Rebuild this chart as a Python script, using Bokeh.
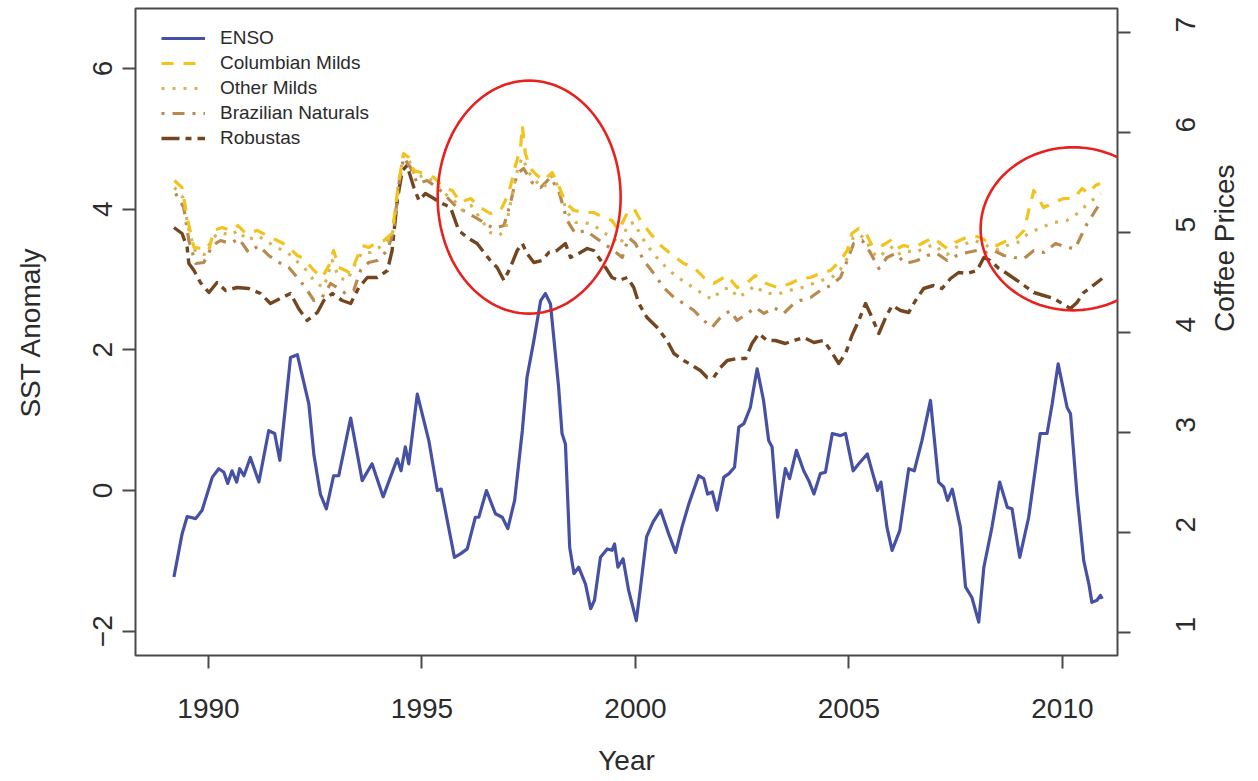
import math
from bokeh.plotting import figure
from bokeh.models import (Range1d, LinearAxis, FixedTicker, Legend, LegendItem,
                          PolyAnnotation)
from bokeh.embed import file_html
from bokeh.resources import INLINE

# ---------------- data ----------------
enso_year = [
    1989.19, 1989.38, 1989.50, 1989.70, 1989.85, 1990.09, 1990.24, 1990.36, 1990.45, 1990.55,
    1990.66, 1990.73, 1990.83, 1990.98, 1991.18, 1991.41, 1991.55, 1991.67, 1991.80, 1991.92,
    1992.08, 1992.35, 1992.47, 1992.62, 1992.76, 1992.93, 1993.05, 1993.33, 1993.60, 1993.83,
    1994.09, 1994.42, 1994.51, 1994.61, 1994.69, 1994.89, 1995.16, 1995.36, 1995.45, 1995.76,
    1995.90, 1996.06, 1996.25, 1996.33, 1996.51, 1996.72, 1996.88, 1997.01, 1997.17, 1997.35,
    1997.46, 1997.62, 1997.78, 1997.89, 1998.01, 1998.20, 1998.28, 1998.36, 1998.46, 1998.56,
    1998.67, 1998.83, 1998.95, 1999.04, 1999.18, 1999.34, 1999.45, 1999.51, 1999.59, 1999.71,
    1999.84, 2000.02, 2000.12, 2000.26, 2000.41, 2000.59, 2000.78, 2000.94, 2001.09, 2001.25,
    2001.48, 2001.60, 2001.69, 2001.80, 2001.91, 2002.07, 2002.19, 2002.32, 2002.42, 2002.54,
    2002.69, 2002.85, 2003.00, 2003.12, 2003.20, 2003.33, 2003.51, 2003.61, 2003.77, 2003.94,
    2004.06, 2004.18, 2004.33, 2004.45, 2004.61, 2004.80, 2004.92, 2005.10, 2005.23, 2005.43,
    2005.54, 2005.67, 2005.75, 2005.89, 2006.01, 2006.19, 2006.40, 2006.53, 2006.71, 2006.91,
    2007.10, 2007.22, 2007.31, 2007.42, 2007.61, 2007.73, 2007.88, 2008.04, 2008.16, 2008.35,
    2008.53, 2008.71, 2008.82, 2009.00, 2009.21, 2009.48, 2009.64, 2009.76, 2009.90, 2010.11,
    2010.19, 2010.34, 2010.50, 2010.62, 2010.69, 2010.81, 2010.89, 2010.93]
enso_sst = [
    -1.23, -0.62, -0.37, -0.40, -0.28, 0.19, 0.31, 0.26, 0.10, 0.28,
    0.12, 0.31, 0.21, 0.47, 0.12, 0.85, 0.81, 0.43, 1.18, 1.89,
    1.93, 1.23, 0.50, -0.05, -0.26, 0.21, 0.21, 1.03, 0.14, 0.38,
    -0.09, 0.45, 0.28, 0.62, 0.38, 1.37, 0.71, 0.00, 0.02, -0.95,
    -0.90, -0.83, -0.38, -0.38, 0.00, -0.33, -0.38, -0.54, -0.14, 0.85,
    1.61, 2.13, 2.70, 2.80, 2.65, 1.47, 0.81, 0.66, -0.81, -1.18,
    -1.09, -1.33, -1.68, -1.56, -0.95, -0.83, -0.85, -0.76, -1.09, -0.97,
    -1.42, -1.85, -1.37, -0.66, -0.45, -0.28, -0.62, -0.88, -0.52, -0.19,
    0.21, 0.17, -0.05, -0.02, -0.28, 0.19, 0.24, 0.33, 0.90, 0.95,
    1.18, 1.73, 1.28, 0.71, 0.62, -0.38, 0.31, 0.17, 0.57, 0.28,
    0.14, -0.05, 0.24, 0.26, 0.81, 0.78, 0.81, 0.28, 0.38, 0.52,
    0.28, 0.00, 0.12, -0.52, -0.85, -0.57, 0.31, 0.28, 0.71, 1.28,
    0.12, 0.05, -0.14, 0.02, -0.52, -1.37, -1.52, -1.87, -1.09, -0.52,
    0.12, -0.24, -0.26, -0.95, -0.38, 0.81, 0.81, 1.23, 1.80, 1.18,
    1.09, -0.05, -1.00, -1.33, -1.59, -1.56, -1.49, -1.54]

columbian_year = [
    1989.20, 1989.38, 1989.50, 1989.66, 1989.85, 1990.01, 1990.12, 1990.32, 1990.52, 1990.69,
    1990.87, 1991.14, 1991.37, 1991.61, 1991.84, 1992.08, 1992.23, 1992.47, 1992.66, 1992.82,
    1992.93, 1993.05, 1993.21, 1993.33, 1993.48, 1993.60, 1993.75, 1993.95, 1994.11, 1994.30,
    1994.46, 1994.57, 1994.69, 1994.81, 1995.04, 1995.28, 1995.51, 1995.71, 1995.90, 1996.14,
    1996.37, 1996.60, 1996.84, 1997.03, 1997.19, 1997.31, 1997.35, 1997.42, 1997.54, 1997.70,
    1997.85, 1998.05, 1998.20, 1998.36, 1998.56, 1998.79, 1999.02, 1999.26, 1999.45, 1999.61,
    1999.81, 1999.96, 2000.12, 2000.35, 2000.59, 2000.82, 2001.13, 2001.37, 2001.60, 2001.83,
    2002.15, 2002.38, 2002.62, 2002.81, 2003.01, 2003.32, 2003.63, 2003.86, 2004.10, 2004.33,
    2004.57, 2004.80, 2004.96, 2005.07, 2005.23, 2005.39, 2005.54, 2005.70, 2005.86, 2005.97,
    2006.13, 2006.28, 2006.52, 2006.75, 2006.98, 2007.14, 2007.30, 2007.49, 2007.69, 2007.88,
    2008.08, 2008.27, 2008.47, 2008.70, 2008.94, 2009.10, 2009.21, 2009.33, 2009.56, 2009.80,
    2010.03, 2010.26, 2010.46, 2010.62, 2010.77, 2010.88]
columbian_price = [
    5.52, 5.45, 5.15, 4.85, 4.84, 4.82, 5.02, 5.05, 5.02, 5.07,
    4.99, 5.02, 4.97, 4.92, 4.87, 4.77, 4.74, 4.62, 4.55, 4.67,
    4.82, 4.65, 4.62, 4.59, 4.75, 4.87, 4.85, 4.90, 4.92, 4.99,
    5.52, 5.79, 5.75, 5.62, 5.59, 5.55, 5.45, 5.42, 5.30, 5.34,
    5.25, 5.19, 5.22, 5.39, 5.67, 5.85, 6.07, 5.79, 5.64, 5.57,
    5.52, 5.60, 5.47, 5.30, 5.22, 5.20, 5.20, 5.15, 5.12, 5.02,
    5.20, 5.24, 5.12, 4.99, 4.87, 4.79, 4.69, 4.65, 4.55, 4.49,
    4.57, 4.45, 4.50, 4.57, 4.50, 4.45, 4.49, 4.54, 4.55, 4.59,
    4.62, 4.72, 4.82, 4.99, 5.04, 5.00, 4.87, 4.85, 4.89, 4.92,
    4.84, 4.87, 4.85, 4.90, 4.95, 4.89, 4.84, 4.90, 4.94, 4.97,
    4.95, 4.90, 4.87, 4.92, 4.95, 5.02, 5.22, 5.42, 5.25, 5.30,
    5.34, 5.34, 5.44, 5.39, 5.47, 5.49]

other_year = [
    1989.20, 1989.40, 1989.55, 1989.70, 1989.90,
    1990.10, 1990.30, 1990.50, 1990.70, 1990.90,
    1991.15, 1991.40, 1991.60, 1991.85,
    1992.10, 1992.30, 1992.50, 1992.70, 1992.90,
    1993.05, 1993.25, 1993.45, 1993.60, 1993.80,
    1994.00, 1994.30, 1994.45, 1994.57, 1994.70, 1994.85,
    1995.05, 1995.30, 1995.50, 1995.75, 1995.95,
    1996.15, 1996.40, 1996.60, 1996.80, 1996.95,
    1997.10, 1997.25, 1997.35, 1997.50, 1997.70, 1997.85,
    1998.05, 1998.20, 1998.40, 1998.60, 1998.80,
    1999.00, 1999.25, 1999.45, 1999.65, 1999.82, 1999.97,
    2000.15, 2000.40, 2000.60, 2000.85,
    2001.10, 2001.35, 2001.60, 2001.80,
    2002.00, 2002.20, 2002.40, 2002.60, 2002.80,
    2003.00, 2003.30, 2003.60, 2003.90,
    2004.10, 2004.35, 2004.60, 2004.80, 2004.97,
    2005.10, 2005.25, 2005.40, 2005.55, 2005.70, 2005.87,
    2006.00, 2006.15, 2006.30, 2006.55, 2006.80,
    2007.00, 2007.15, 2007.30, 2007.50, 2007.70, 2007.90,
    2008.10, 2008.30, 2008.50, 2008.70, 2008.95,
    2009.20, 2009.50, 2009.80,
    2010.10, 2010.35, 2010.60, 2010.90]
other_price = [
    5.45, 5.35, 5.00, 4.80, 4.78,
    4.95, 5.00, 4.97, 5.02, 4.92,
    4.97, 4.90, 4.85, 4.80,
    4.70, 4.62, 4.50, 4.45, 4.72,
    4.55, 4.52, 4.70, 4.80, 4.80,
    4.85, 4.95, 5.50, 5.78, 5.72, 5.55,
    5.57, 5.50, 5.40, 5.32, 5.22,
    5.27, 5.12, 5.00, 4.97, 5.02,
    5.35, 5.65, 5.75, 5.60, 5.50, 5.45,
    5.57, 5.45, 5.20, 5.10, 5.10,
    5.08, 5.00, 4.95, 4.88, 5.08, 5.10,
    4.95, 4.80, 4.70, 4.60,
    4.52, 4.45, 4.38, 4.33,
    4.42, 4.45, 4.35, 4.40, 4.47,
    4.40, 4.38, 4.42, 4.45,
    4.48, 4.52, 4.55, 4.63, 4.75,
    4.95, 4.98, 4.92, 4.80, 4.75, 4.82,
    4.85, 4.78, 4.82, 4.80, 4.85,
    4.88, 4.82, 4.78, 4.85, 4.88, 4.92,
    4.90, 4.85, 4.83, 4.87, 4.90,
    4.99, 5.05, 5.10,
    5.12, 5.19, 5.29, 5.39]

brazil_year = [
    1989.23, 1989.42, 1989.54, 1989.70, 1989.89, 1990.09, 1990.28, 1990.52, 1990.71, 1990.94,
    1991.18, 1991.41, 1991.65, 1991.88, 1992.08, 1992.27, 1992.47, 1992.66, 1992.86, 1993.01,
    1993.21, 1993.40, 1993.56, 1993.75, 1993.95, 1994.19, 1994.34, 1994.46, 1994.57, 1994.73,
    1994.89, 1995.12, 1995.36, 1995.59, 1995.82, 1996.06, 1996.29, 1996.45, 1996.68, 1996.92,
    1997.07, 1997.23, 1997.38, 1997.58, 1997.78, 1998.01, 1998.20, 1998.40, 1998.59, 1998.83,
    1999.06, 1999.26, 1999.49, 1999.69, 1999.84, 2000.00, 2000.19, 2000.43, 2000.66, 2000.90,
    2001.13, 2001.37, 2001.60, 2001.79, 2001.99, 2002.22, 2002.38, 2002.62, 2002.81, 2003.01,
    2003.24, 2003.47, 2003.71, 2003.86, 2004.10, 2004.33, 2004.57, 2004.80, 2004.96, 2005.11,
    2005.31, 2005.50, 2005.70, 2005.89, 2006.09, 2006.32, 2006.60, 2006.83, 2007.06, 2007.30,
    2007.53, 2007.77, 2008.00, 2008.20, 2008.39, 2008.63, 2008.87, 2009.10, 2009.33, 2009.56,
    2009.84, 2010.11, 2010.30, 2010.42, 2010.58, 2010.73, 2010.89]
brazil_price = [
    5.39, 5.25, 4.92, 4.69, 4.70, 4.87, 4.92, 4.89, 4.94, 4.80,
    4.87, 4.77, 4.70, 4.65, 4.55, 4.45, 4.32, 4.35, 4.49, 4.45,
    4.39, 4.42, 4.62, 4.70, 4.72, 4.82, 5.02, 5.49, 5.75, 5.65,
    5.49, 5.52, 5.45, 5.35, 5.25, 5.20, 5.14, 5.10, 5.04, 5.07,
    5.29, 5.59, 5.64, 5.50, 5.45, 5.55, 5.42, 5.12, 4.99, 5.02,
    4.95, 4.89, 4.82, 4.75, 4.95, 4.89, 4.72, 4.59, 4.45, 4.35,
    4.29, 4.22, 4.12, 4.05, 4.15, 4.22, 4.12, 4.19, 4.25, 4.19,
    4.25, 4.19, 4.29, 4.32, 4.35, 4.42, 4.47, 4.55, 4.72, 4.89,
    4.92, 4.80, 4.64, 4.75, 4.79, 4.69, 4.72, 4.77, 4.79, 4.72,
    4.77, 4.80, 4.82, 4.80, 4.82, 4.77, 4.75, 4.74, 4.82, 4.80,
    4.89, 4.85, 4.84, 4.95, 5.09, 5.19, 5.30]

robusta_year = [
    1989.19, 1989.38, 1989.50, 1989.54, 1989.66, 1989.81, 1990.01, 1990.20, 1990.40, 1990.67,
    1990.94, 1991.22, 1991.45, 1991.73, 1991.92, 1992.11, 1992.31, 1992.55, 1992.70, 1992.90,
    1993.13, 1993.33, 1993.52, 1993.72, 1993.95, 1994.19, 1994.30, 1994.42, 1994.54, 1994.65,
    1994.81, 1994.93, 1995.08, 1995.24, 1995.43, 1995.67, 1995.86, 1996.06, 1996.29, 1996.60,
    1996.76, 1996.92, 1997.07, 1997.23, 1997.35, 1997.46, 1997.62, 1997.81, 1997.97, 1998.16,
    1998.36, 1998.48, 1998.67, 1998.87, 1999.02, 1999.14, 1999.30, 1999.45, 1999.61, 1999.81,
    1999.96, 2000.08, 2000.27, 2000.51, 2000.74, 2000.90, 2001.13, 2001.33, 2001.52, 2001.68,
    2001.83, 2001.99, 2002.15, 2002.38, 2002.58, 2002.73, 2002.89, 2003.08, 2003.28, 2003.51,
    2003.71, 2003.94, 2004.18, 2004.41, 2004.57, 2004.76, 2004.92, 2005.07, 2005.23, 2005.39,
    2005.54, 2005.70, 2005.86, 2006.01, 2006.21, 2006.40, 2006.56, 2006.75, 2006.98, 2007.18,
    2007.38, 2007.57, 2007.77, 2008.00, 2008.16, 2008.31, 2008.51, 2008.70, 2008.94, 2009.10,
    2009.33, 2009.56, 2009.80, 2009.99, 2010.19, 2010.34, 2010.50, 2010.66, 2010.81, 2010.93]
robusta_price = [
    5.05, 4.99, 4.85, 4.69, 4.62, 4.50, 4.40, 4.50, 4.42, 4.45,
    4.44, 4.39, 4.29, 4.35, 4.39, 4.24, 4.12, 4.20, 4.32, 4.39,
    4.32, 4.29, 4.45, 4.55, 4.55, 4.62, 4.82, 5.32, 5.62, 5.67,
    5.45, 5.32, 5.39, 5.35, 5.30, 5.25, 5.02, 4.95, 4.89, 4.72,
    4.65, 4.52, 4.65, 4.82, 4.89, 4.79, 4.70, 4.72, 4.80, 4.82,
    4.89, 4.75, 4.79, 4.84, 4.82, 4.75, 4.65, 4.55, 4.52, 4.55,
    4.45, 4.29, 4.15, 4.05, 3.92, 3.79, 3.72, 3.67, 3.62, 3.55,
    3.55, 3.65, 3.72, 3.74, 3.74, 3.89, 3.99, 3.92, 3.92, 3.89,
    3.92, 3.95, 3.90, 3.92, 3.82, 3.69, 3.79, 3.97, 4.12, 4.29,
    4.15, 3.99, 4.15, 4.27, 4.22, 4.20, 4.32, 4.44, 4.47, 4.44,
    4.54, 4.60, 4.59, 4.62, 4.75, 4.72, 4.64, 4.59, 4.52, 4.47,
    4.40, 4.37, 4.34, 4.29, 4.24, 4.30, 4.40, 4.45, 4.50, 4.54]

x_ticks = [1990, 1995, 2000, 2005, 2010]
sst_ticks = [-2, 0, 2, 4, 6]
price_ticks = [1, 2, 3, 4, 5, 6, 7]

# ---------------- figure ----------------
FONT = "'Liberation Sans', Arial, sans-serif"
TXT = "#2b2b2b"
AX = "#4a4a4a"

p = figure(width=1258, height=781, output_backend="svg", toolbar_location=None,
           x_range=Range1d(1988.29, 2011.29), y_range=Range1d(-2.345, 6.851),
           min_border_left=135, min_border_right=141, min_border_top=8,
           min_border_bottom=126, background_fill_color="white",
           border_fill_color="white")
p.extra_y_ranges = {"coffee": Range1d(0.77, 7.24)}
p.grid.visible = False
p.outline_line_color = AX
p.outline_line_width = 2

right_axis = LinearAxis(y_range_name="coffee")
p.add_layout(right_axis, "right")

for ax in (p.xaxis[0], p.yaxis[0], right_axis):
    ax.axis_line_color = None
    ax.major_tick_line_color = AX
    ax.major_tick_line_width = 2
    ax.major_tick_in = 0
    ax.major_tick_out = 13
    ax.minor_tick_line_color = None
    ax.major_label_text_font = FONT
    ax.major_label_text_font_size = "28px"
    ax.major_label_text_color = TXT
    ax.axis_label_text_font = FONT
    ax.axis_label_text_font_size = "28px"
    ax.axis_label_text_font_style = "normal"
    ax.axis_label_text_color = TXT

p.xaxis[0].ticker = FixedTicker(ticks=x_ticks)
p.xaxis[0].axis_label = "Year"
p.xaxis[0].major_label_standoff = 30
p.xaxis[0].axis_label_standoff = 24

p.yaxis[0].ticker = FixedTicker(ticks=sst_ticks)
p.yaxis[0].axis_label = "SST Anomaly"
p.yaxis[0].major_label_orientation = "vertical"
p.yaxis[0].major_label_standoff = 10
p.yaxis[0].axis_label_standoff = 45

right_axis.ticker = FixedTicker(ticks=price_ticks)
right_axis.axis_label = "Coffee Prices"
right_axis.major_label_orientation = math.pi / 2
right_axis.axis_label_orientation = math.pi / 2
right_axis.major_label_standoff = 55
right_axis.axis_label_standoff = 17

# ---------------- lines ----------------
enso_r = p.line(enso_year, enso_sst, line_color="#4651a6", line_width=3.2,
                line_join="round")
rob_r = p.line(robusta_year, robusta_price, y_range_name="coffee",
               line_color="#744620", line_width=3.4, line_dash="18 6 6 6",
               line_join="round")
bra_r = p.line(brazil_year, brazil_price, y_range_name="coffee",
               line_color="#b98a4e", line_width=3.2, line_dash="3 8 12 8",
               line_join="round")
oth_r = p.line(other_year, other_price, y_range_name="coffee",
               line_color="#d4b553", line_width=3.2, line_dash="3 8",
               line_join="round")
col_r = p.line(columbian_year, columbian_price, y_range_name="coffee",
               line_color="#f2c31c", line_width=3.2, line_dash="12 10",
               line_join="round")

legend = Legend(items=[
    LegendItem(label="ENSO", renderers=[enso_r]),
    LegendItem(label="Columbian Milds", renderers=[col_r]),
    LegendItem(label="Other Milds", renderers=[oth_r]),
    LegendItem(label="Brazilian Naturals", renderers=[bra_r]),
    LegendItem(label="Robustas", renderers=[rob_r]),
], location=(26, 506))
legend.border_line_color = None
legend.background_fill_alpha = 0
legend.padding = 5
legend.spacing = 3
legend.glyph_width = 44
legend.glyph_height = 20
legend.label_height = 20
legend.label_standoff = 15
legend.label_text_font = FONT
legend.label_text_font_size = "19px"
legend.label_text_color = TXT
p.add_layout(legend)

# ---------------- red highlight circles ----------------
def ellipse_pts(cx, cy, rx, ry, n=120):
    xs = [cx + rx * math.cos(2 * math.pi * k / n) for k in range(n)]
    ys = [cy + ry * math.sin(2 * math.pi * k / n) for k in range(n)]
    return xs, ys

for (cx, cy, rx, ry) in [(1997.51, 4.17, 2.143, 1.656), (2010.25, 3.72, 2.166, 1.159)]:
    xs, ys = ellipse_pts(cx, cy, rx, ry)
    p.add_layout(PolyAnnotation(xs=xs, ys=ys, fill_alpha=0, line_color="#e8201e",
                                line_alpha=1.0, line_width=2.6))

open("out.html", "w").write(file_html(p, INLINE))
